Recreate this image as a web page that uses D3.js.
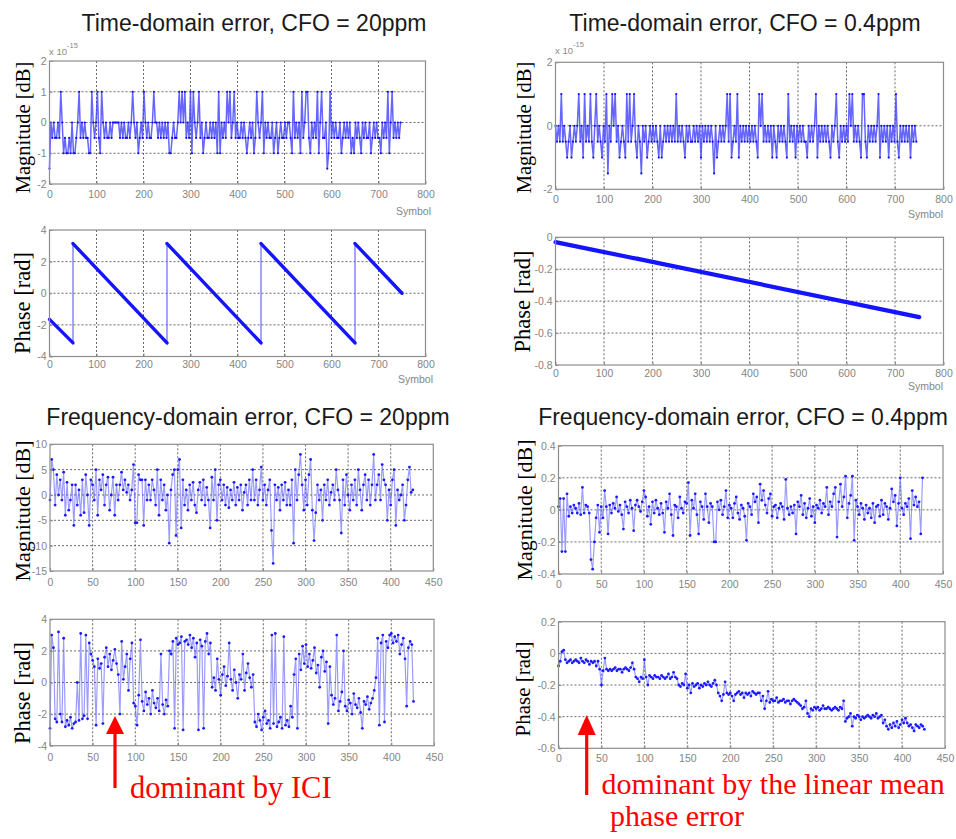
<!DOCTYPE html>
<html>
<head>
<meta charset="utf-8">
<script src="https://cdn.jsdelivr.net/npm/d3@7"></script>
<style>
  html, body { margin: 0; padding: 0; background: #fff; }
  svg { display: block; }
</style>
</head>
<body>
<script>
// ---------------- DATA ----------------
// Time-domain magnitude error (x 1e-15), one code per sampled symbol (every 3rd symbol)
// codes: '1' = +1, '0' = 0, 'h' = -0.5, 'm' = -1, 'x' = -1.5
const tdMagStep = 3;
const tdMag20Codes = [
  "x0h0hh0h10","mhmmhm0mmh","01h0h0hhmm","10h01hm10h","0hh0h00000",
  "h0h0hh0h01","0h0mh0h10h","0hh0100h0h","0h0h0mmh0h","h010101h0h",
  "1m10h01h0m","h0hh0h0h0m","1m0h0h101h","01h0hh0h0h","mh0h0mh10h",
  "01m0h0hh0m","h0mh0hh0h0","0hm1h0h0m1","h011hm0h0h","1m01hh0xm1",
  "h0h0hh0mh0","h0h0mhm0h0","hm0h0hh0mh","0h0hhm0h0h","1m01h0h0h0"
].join("");
const tdMag04Codes = [
  "0h0h1h0hmh","0mh0h01h0m","1h0h1hm01h","0hm0h1x0h1","01h0mh0hm1",
  "h1h01hm0hx","0h0mh0h0h0","hm0mh0h0h0","h0h1h0h0hm","0h0hh0h0h0",
  "m0h0h0h0hx","0mh0h0h01h","1mh0h1m0h0","h0h0h0h0hm","101h0h0h0m",
  "0hm0h0h0hm","1h0h0m0h0h","0hhm0h0h01","m0h0h0h0hm","0h01hm0h0h",
  "0h101h0h0h","m11hm0h0h0","h01m0h0h0m","0h0h1hm0h0","h0h0m0h0h"
].join("");
const tdLevels = { "1": 1, "0": 0, "h": -0.5, "m": -1, "x": -1.5 };

// Time-domain phase error (breakpoints of the wrapped phase ramp)
const tdPhase20X = [0, 50, 50, 250, 250, 450, 450, 650, 650, 750];
const tdPhase20Y = [-1.65, -3.14, 3.14, -3.14, 3.14, -3.14, 3.14, -3.14, 3.14, 0.0];
const tdPhase04X = [0, 160, 170, 750];
const tdPhase04Y = [-0.03, -0.13, -0.135, -0.5];

// Frequency-domain errors, sampled every 2nd subcarrier (0..426)
const fdStep = 2;
const fdMag20 = [
  -1, 7, 5, -2, 4, 0, 3, -1, 4.5, -4,
  2.5, -3, -1, 2, -6, 2, -2, 1, -4, 3,
  -3.5, 4, 0, -6, 3, 2, -1, 5, -4, 3,
  1, 4, -2, 2, 3.5, -3, 0, 3.5, -4, 2,
  -1, 2, 4.5, 1, 3, 0.5, 2, -1, 1, 6,
  -5.5, -5.5, 4, 3, 3, -6, 3, -1, 2, -1,
  3, 1, -2, 5, -4, 3, -1, 2, -3, 0,
  -9.5, 1, 4, 5, -8, 5, 7, -6.5, 3, -2,
  1, -3, 2, -1, 2.5, -2, -3.5, 1, 2.5, -1,
  3, -2, 1.5, -1, -6.5, 3.5, -1, 5, -5, 2,
  3, -1, 2, -2, 1.5, -2.5, 1, -1, 2.5, -2,
  1.5, -1, 2, -3, 0.5, 2, -2, 3, -1, 5,
  -1, 3, -2, 1, 5.5, -1, 2, -2, 1, 3,
  -7, -13.5, 2, -1, 1.5, -3, 2, -1, 2.5, -2,
  1, -2, 3, -9.5, 5, -1, 4, 8, 2, -3,
  3, -2, 4, 7, -3, -9, -3.5, 2, -1, 1,
  -5, 2, -1, 3, -2, 0.5, 2, -1, 5, 1,
  -1, -7.5, 3, -2, 4, 0, -3, 2, -1, 3,
  -2, 5, 1, -3, 2, 4, -1, 3, -2, 2,
  8, -1, 2, 4, -1, 6, 3, 2, -5, 1,
  -2, 3, 5, -6, 1, -1, 0, 2, -5, -2,
  3, 5.5, 0.5, 1
];
const fdPhase20 = [
  -2.9, 3, 2.2, -2.3, -2.5, 3.2, -2, -2.5, 2.8, -2.8,
  -2.4, -2.7, -2.2, -2.9, -2.6, -2.5, 0, -2.4, 3.1, -2.3,
  -2.1, 3, -2.3, 2.5, 1.8, 1.4, 1, -2.7, 1.5, 0.9,
  1.2, -2.6, 1.6, 2.2, 1, 1.8, 0.8, 1.4, 2.1, 1.2,
  0.5, -2, 2.6, 0.2, 1, 1.8, -0.5, 1.5, 2.5, -1.3,
  -1.5, -2.7, -0.8, 2.7, -1.2, -1.8, -0.6, -1.4, -1, -2,
  -0.5, -1.3, -1.6, -1, -1.8, 1.8, -1.4, -2, -1.1, -1.5,
  2, 1.8, 2.6, -2.9, 2.8, 2.4, 2.5, 2.9, -3, 2.6,
  2.7, 2.4, 3, 2.2, 2.8, 1.6, 2.5, -3, 2.7, 2.3,
  -2.9, 2.6, 3.1, 1.8, 2.5, -0.3, 0.3, -0.5, 1.5, 0.2,
  -0.8, 0.5, 1, -0.2, 0.4, 2.5, 0.2, -0.5, 0.8, 0,
  -1, 0.5, 0.2, 1.8, -0.5, 0.6, 1.2, 0.3, -0.3, 0.5,
  -2.5, -2.8, -2, -2.4, -3, -2.2, -1.8, -2.6, -2.4, -2.9,
  3, -2.6, 3.1, -2.8, -2.5, -2.2, -2.9, 2.9, -2.7, -2.4,
  -2.8, -1.5, -2.2, 0.5, 1.5, -2.9, 1.8, 0.8, 2.3, 1.2,
  2.4, 1, 1.8, 0.9, 1.4, 2.2, 0.6, 1.1, -0.3, 1.6,
  2, 0.7, 1.3, -2.6, 1, -0.8, -1.4, -1, 3, -1.8,
  -1.2, -0.6, 2, -1.5, -1.8, -1.1, -1.3, -2, -0.7, -1.4,
  -1.6, -1, -1.9, -2.9, -1.2, -1.4, -0.9, -1.7, -1.3, -1,
  -0.5, 0.3, 2.8, -2.7, 2.5, 3, -2.5, 2.6, 2.2, 3,
  3.1, 2.5, 2.9, 2.6, 3, 1.8, 2.4, 2.8, 1.5, -1.5,
  2.2, 2.6, 2.4, -1.2
];
const fdMag04 = [
  0.02, 0.07, -0.26, 0.07, -0.26, 0.1, -0.04, 0.02, -0.02, 0.03,
  0.01, -0.02, 0.04, -0.03, 0.14, -0.02, 0.03, 0.02, -0.02, -0.31,
  -0.37, -0.2, -0.05, 0.03, -0.14, 0.02, -0.05, 0.12, 0.02, -0.15,
  0.03, -0.02, 0.04, 0.01, 0.08, -0.01, 0.03, -0.03, -0.12, 0.05,
  0.02, -0.02, 0.06, 0.01, -0.13, 0.03, 0.06, 0.02, -0.01, 0.05,
  0.12, 0.08, -0.04, 0.02, -0.09, 0.05, -0.02, 0.06, 0.01, -0.03,
  0.04, -0.02, -0.14, 0.05, 0.01, 0.1, -0.03, -0.16, 0.03, 0.02,
  -0.05, 0.08, 0.01, -0.02, 0.05, 0.04, 0.17, -0.16, 0.06, 0.01,
  0.1, -0.03, -0.15, 0.05, 0.02, -0.06, 0.1, 0.02, -0.08, 0.04,
  0.02, -0.2, -0.2, 0.05, 0, 0.06, -0.03, 0.02, 0.12, -0.05,
  0.03, 0.01, -0.05, 0.04, 0.08, -0.02, -0.06, 0.03, 0.01, -0.04,
  -0.19, 0.04, 0.02, -0.03, 0.1, 0.05, 0.08, -0.08, 0.16, 0.06,
  0.12, 0.03, -0.02, 0.07, 0.1, -0.04, 0.02, 0.03, -0.05, 0.01,
  0.04, 0.02, -0.06, 0.19, 0.01, -0.03, 0.02, -0.02, 0.03, -0.15,
  0.05, 0.02, 0.09, -0.03, 0.04, -0.05, 0.01, 0.07, -0.04, 0.02,
  -0.08, 0.03, 0.01, 0.06, -0.02, 0.04, 0.02, 0.14, -0.03, 0.05,
  0.02, 0.1, 0.14, -0.17, 0.05, 0.16, 0.02, 0.08, 0.21, -0.05,
  0.04, 0.09, 0.21, -0.19, 0.06, 0.02, -0.03, 0.04, 0.01, -0.06,
  0.03, -0.02, 0.01, -0.05, 0.04, -0.08, 0.02, 0.03, -0.04, 0.06,
  -0.03, 0.04, 0.02, -0.06, 0.01, 0.13, 0.05, 0.09, -0.1, 0.04,
  0.2, 0.01, -0.03, 0.04, 0.02, 0.07, -0.18, 0.12, 0.03, 0.08,
  0.02, 0.05, -0.15, 0.2
];
const fdPhase04 = [
  -0.08, -0.05, 0.01, 0.02, -0.04, -0.06, -0.05, -0.04, -0.06, -0.05,
  -0.04, -0.05, -0.06, -0.03, -0.05, -0.06, -0.04, -0.05, -0.07, -0.05,
  -0.06, -0.05, -0.08, -0.05, -0.1, -0.2, -0.11, -0.03, -0.1, -0.11,
  -0.1, -0.11, -0.1, -0.09, -0.11, -0.1, -0.1, -0.12, -0.1, -0.09,
  -0.1, -0.11, -0.09, -0.06, -0.1, -0.15, -0.16, -0.18, -0.15, -0.16,
  -0.04, -0.15, -0.2, -0.14, -0.15, -0.16, -0.14, -0.15, -0.15, -0.16,
  -0.14, -0.15, -0.16, -0.15, -0.13, -0.16, -0.15, -0.12, -0.15, -0.16,
  -0.2, -0.21, -0.19, -0.2, -0.13, -0.22, -0.2, -0.25, -0.19, -0.21,
  -0.2, -0.19, -0.22, -0.2, -0.21, -0.19, -0.2, -0.18, -0.2, -0.21,
  -0.19, -0.17, -0.2, -0.25, -0.27, -0.3, -0.26, -0.18, -0.25, -0.26,
  -0.25, -0.27, -0.3, -0.26, -0.25, -0.24, -0.26, -0.25, -0.28, -0.25,
  -0.26, -0.25, -0.27, -0.24, -0.25, -0.26, -0.25, -0.25, -0.3, -0.27,
  -0.35, -0.3, -0.24, -0.31, -0.29, -0.3, -0.3, -0.28, -0.31, -0.3,
  -0.3, -0.29, -0.31, -0.3, -0.3, -0.32, -0.3, -0.29, -0.3, -0.31,
  -0.32, -0.33, -0.35, -0.34, -0.3, -0.38, -0.4, -0.35, -0.36, -0.34,
  -0.35, -0.34, -0.36, -0.35, -0.33, -0.35, -0.35, -0.34, -0.35, -0.36,
  -0.35, -0.34, -0.35, -0.36, -0.34, -0.35, -0.3, -0.43, -0.41, -0.4,
  -0.38, -0.46, -0.4, -0.41, -0.39, -0.4, -0.42, -0.4, -0.41, -0.4,
  -0.39, -0.4, -0.41, -0.39, -0.4, -0.38, -0.41, -0.4, -0.39, -0.44,
  -0.42, -0.46, -0.48, -0.45, -0.47, -0.44, -0.46, -0.43, -0.47, -0.45,
  -0.42, -0.44, -0.41, -0.44, -0.46, -0.45, -0.47, -0.49, -0.45, -0.46,
  -0.47, -0.45, -0.46, -0.48
];

// Axis ticks
const tdXTicks = [0, 100, 200, 300, 400, 500, 600, 700, 800];
const fdXTicks = [0, 50, 100, 150, 200, 250, 300, 350, 400, 450];
const tdMag20YTicks = [-2, -1, 0, 1, 2];
const tdMag04YTicks = [-2, 0, 2];
const tdPhase20YTicks = [-4, -2, 0, 2, 4];
const tdPhase04YTicks = [-0.8, -0.6, -0.4, -0.2, 0];
const fdMag20YTicks = [-15, -10, -5, 0, 5, 10];
const fdPhase20YTicks = [-4, -2, 0, 2, 4];
const fdMag04YTicks = [-0.4, -0.2, 0, 0.2, 0.4];
const fdPhase04YTicks = [-0.6, -0.4, -0.2, 0, 0.2];

// Texts
const titles = [
  "Time-domain error, CFO = 20ppm",
  "Time-domain error, CFO = 0.4ppm",
  "Frequency-domain error, CFO = 20ppm",
  "Frequency-domain error, CFO = 0.4ppm"
];
const annotation1 = "dominant by ICI";
const annotation2 = ["dominant by the linear mean", "phase error"];

// ---------------- DRAWING ----------------
const W = 956, H = 839;
const SANS = "'Liberation Sans', Arial, Helvetica, sans-serif";
const SERIF = "'Liberation Serif', 'Times New Roman', Times, serif";
const svg = d3.select("body").append("svg").attr("width", W).attr("height", H);
svg.append("rect").attr("width", W).attr("height", H).attr("fill", "#fff");

const fmt = d => String(+d.toFixed(2));

function drawPanel(p) {
  const x = d3.scaleLinear().domain(p.xDomain).range([p.left, p.right]);
  const y = d3.scaleLinear().domain(p.yDomain).range([p.bottom, p.top]);
  const g = svg.append("g");

  // grid
  const gx = p.xTicks.filter(t => t > p.xDomain[0] && t < p.xDomain[1]);
  const gy = p.yTicks.filter(t => t > p.yDomain[0] && t < p.yDomain[1]);
  g.append("g").selectAll("line").data(gx).join("line")
    .attr("x1", d => x(d)).attr("x2", d => x(d))
    .attr("y1", p.top).attr("y2", p.bottom)
    .attr("stroke", "#444").attr("stroke-width", 0.8).attr("stroke-dasharray", "2,2");
  g.append("g").selectAll("line").data(gy).join("line")
    .attr("x1", p.left).attr("x2", p.right)
    .attr("y1", d => y(d)).attr("y2", d => y(d))
    .attr("stroke", "#444").attr("stroke-width", 0.8).attr("stroke-dasharray", "2,2");

  // data
  p.draw(g, x, y);

  // box
  g.append("rect").attr("x", p.left).attr("y", p.top)
    .attr("width", p.right - p.left).attr("height", p.bottom - p.top)
    .attr("fill", "none").attr("stroke", "#8c8c8c").attr("stroke-width", 1.2);

  // axes
  const xa = g.append("g").attr("transform", `translate(0,${p.bottom})`)
    .call(d3.axisBottom(x).tickValues(p.xTicks).tickSizeInner(-3).tickSizeOuter(0)
      .tickPadding(p.xPad).tickFormat(fmt));
  const ya = g.append("g").attr("transform", `translate(${p.left},0)`)
    .call(d3.axisLeft(y).tickValues(p.yTicks).tickSizeInner(-3).tickSizeOuter(0)
      .tickPadding(3).tickFormat(fmt));
  [xa, ya].forEach(a => {
    a.select(".domain").remove();
    a.selectAll(".tick line").attr("stroke", "#8c8c8c");
    a.selectAll(".tick text").attr("fill", "#858585")
      .attr("font-family", SANS).attr("font-size", 10.5);
  });

  // y label
  g.append("text")
    .attr("transform", `translate(${p.ylab.x},${p.ylab.y}) rotate(-90)`)
    .attr("text-anchor", "middle").attr("font-family", SERIF)
    .attr("font-size", p.ylab.size).attr("fill", "#000").text(p.ylab.text);

  // x label (Symbol)
  if (p.xlab) {
    g.append("text").attr("x", p.xlab.x).attr("y", p.xlab.y)
      .attr("text-anchor", "end").attr("font-family", SANS)
      .attr("font-size", 10.5).attr("fill", "#858585").text("Symbol");
  }
  // exponent label
  if (p.expo) {
    const t = g.append("text").attr("x", p.expo.x).attr("y", p.expo.y)
      .attr("font-family", SANS).attr("font-size", 9.5).attr("fill", "#8a8a8a");
    t.append("tspan").text("x 10");
    t.append("tspan").attr("dy", -7).attr("font-size", 7.5).text("-15");
  }
}

// data drawers
function drawDiscrete(codes, step) {
  return (g, x, y) => {
    const pts = codes.split("").map((c, i) => [i * step, tdLevels[c]]);
    g.append("path").datum(pts)
      .attr("d", d3.line().x(d => x(d[0])).y(d => y(d[1])))
      .attr("fill", "none").attr("stroke", "#4040ff").attr("stroke-width", 1.5)
      .attr("stroke-opacity", 0.8);
    g.append("g").selectAll("circle").data(pts).join("circle")
      .attr("cx", d => x(d[0])).attr("cy", d => y(d[1])).attr("r", 1.1)
      .attr("fill", "#1010ff");
  };
}
function drawRamp(xs, ys, thick) {
  return (g, x, y) => {
    const pts = xs.map((v, i) => [v, ys[i]]);
    g.append("path").datum(pts)
      .attr("d", d3.line().x(d => x(d[0])).y(d => y(d[1])))
      .attr("fill", "none").attr("stroke", "#6a6aff").attr("stroke-width", 1.2);
    const segs = [];
    for (let i = 0; i < pts.length - 1; i++) {
      if (pts[i + 1][0] > pts[i][0]) segs.push([pts[i], pts[i + 1]]);
    }
    g.append("g").selectAll("path").data(segs).join("path")
      .attr("d", d3.line().x(d => x(d[0])).y(d => y(d[1])))
      .attr("fill", "none").attr("stroke", "#1414ff").attr("stroke-width", thick)
      .attr("stroke-linecap", "round");
  };
}
function drawNoisy(vals, step) {
  return (g, x, y) => {
    const pts = vals.map((v, i) => [i * step, v]);
    g.append("path").datum(pts)
      .attr("d", d3.line().x(d => x(d[0])).y(d => y(d[1])))
      .attr("fill", "none").attr("stroke", "#5a5aff").attr("stroke-width", 1.2)
      .attr("stroke-opacity", 0.6);
    g.append("g").selectAll("circle").data(pts).join("circle")
      .attr("cx", d => x(d[0])).attr("cy", d => y(d[1])).attr("r", 1.4)
      .attr("fill", "#1a1aff");
  };
}

const panels = [
  { left: 49.5, right: 425.5, top: 61, bottom: 184, xDomain: [0, 800], yDomain: [-2, 2],
    xTicks: tdXTicks, yTicks: tdMag20YTicks, xPad: 7,
    ylab: { x: 30, y: 127.5, size: 20.5, text: "Magnitude [dB]" },
    expo: { x: 49, y: 55 },
    xlab: { x: 431, y: 215 },
    draw: drawDiscrete(tdMag20Codes, tdMagStep) },
  { left: 49.5, right: 425.5, top: 230, bottom: 356.5, xDomain: [0, 800], yDomain: [-4, 4],
    xTicks: tdXTicks, yTicks: tdPhase20YTicks, xPad: 4.5,
    ylab: { x: 29.5, y: 303, size: 22.5, text: "Phase [rad]" },
    xlab: { x: 433, y: 383 },
    draw: drawRamp(tdPhase20X, tdPhase20Y, 3.4) },
  { left: 555.5, right: 943.5, top: 62.3, bottom: 189.3, xDomain: [0, 800], yDomain: [-2, 2],
    xTicks: tdXTicks, yTicks: tdMag04YTicks, xPad: 6.5,
    ylab: { x: 531, y: 127.5, size: 20.5, text: "Magnitude [dB]" },
    expo: { x: 555, y: 54 },
    xlab: { x: 943, y: 218 },
    draw: drawDiscrete(tdMag04Codes, tdMagStep) },
  { left: 555.5, right: 943.5, top: 237.3, bottom: 365, xDomain: [0, 800], yDomain: [-0.8, 0],
    xTicks: tdXTicks, yTicks: tdPhase04YTicks, xPad: 5,
    ylab: { x: 530, y: 301.5, size: 22.5, text: "Phase [rad]" },
    xlab: { x: 943, y: 390 },
    draw: drawRamp(tdPhase04X, tdPhase04Y, 4.2) },
  { left: 50, right: 433.3, top: 444.3, bottom: 571, xDomain: [0, 450], yDomain: [-15, 10],
    xTicks: fdXTicks, yTicks: fdMag20YTicks, xPad: 8,
    ylab: { x: 30, y: 511, size: 22, text: "Magnitude [dB]" },
    draw: drawNoisy(fdMag20, fdStep) },
  { left: 50, right: 434, top: 619.3, bottom: 745.7, xDomain: [0, 450], yDomain: [-4, 4],
    xTicks: fdXTicks, yTicks: fdPhase20YTicks, xPad: 7.5,
    ylab: { x: 30, y: 693, size: 22.5, text: "Phase [rad]" },
    draw: drawNoisy(fdPhase20, fdStep) },
  { left: 558.5, right: 943, top: 445.7, bottom: 574, xDomain: [0, 450], yDomain: [-0.4, 0.4],
    xTicks: fdXTicks, yTicks: fdMag04YTicks, xPad: 7,
    ylab: { x: 531.5, y: 510, size: 22, text: "Magnitude [dB]" },
    draw: drawNoisy(fdMag04, fdStep) },
  { left: 558.5, right: 945, top: 621.7, bottom: 748.3, xDomain: [0, 450], yDomain: [-0.6, 0.2],
    xTicks: fdXTicks, yTicks: fdPhase04YTicks, xPad: 6.5,
    ylab: { x: 530, y: 689, size: 21, text: "Phase [rad]" },
    draw: drawNoisy(fdPhase04, fdStep) }
];

panels.forEach(drawPanel);

// titles
const titlePos = [[254, 31], [745, 31], [248, 425], [743, 425]];
svg.selectAll("text.title").data(titles).join("text").attr("class", "title")
  .attr("x", (d, i) => titlePos[i][0]).attr("y", (d, i) => titlePos[i][1])
  .attr("text-anchor", "middle").attr("font-family", SANS).attr("font-size", 23)
  .attr("fill", "#1a1a1a").text(d => d);

// annotations (red arrows + text)
function arrow(xc, yTip, yEnd, headW, headH) {
  svg.append("line").attr("x1", xc).attr("x2", xc).attr("y1", yTip + headH - 1).attr("y2", yEnd)
    .attr("stroke", "#ff0000").attr("stroke-width", 3.2);
  svg.append("path")
    .attr("d", `M${xc},${yTip} L${xc - headW / 2},${yTip + headH} L${xc + headW / 2},${yTip + headH} Z`)
    .attr("fill", "#ff0000");
}
arrow(115, 716, 788, 18, 18);
arrow(586.7, 715, 795, 18, 20);
svg.append("text").attr("x", 130).attr("y", 798).attr("font-family", SERIF)
  .attr("font-size", 30.5).attr("fill", "#ff0000").text(annotation1);
svg.append("text").attr("x", 601.5).attr("y", 794).attr("font-family", SERIF)
  .attr("font-size", 30).attr("fill", "#ff0000").text(annotation2[0]);
svg.append("text").attr("x", 610).attr("y", 826).attr("font-family", SERIF)
  .attr("font-size", 30).attr("fill", "#ff0000").text(annotation2[1]);
</script>
</body>
</html>
